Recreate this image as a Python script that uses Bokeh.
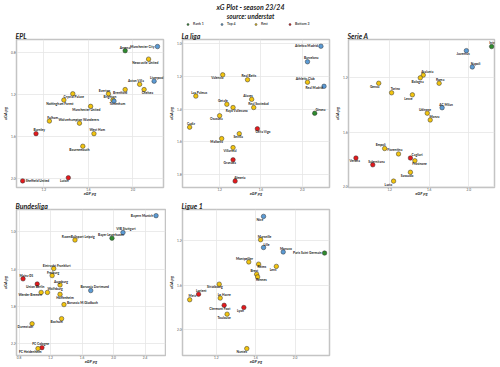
from bokeh.plotting import figure
from bokeh.layouts import column, row
from bokeh.models import ColumnDataSource, Range1d, FixedTicker, Title, Legend, LegendItem, PrintfTickFormatter
from bokeh.embed import file_html
from bokeh.resources import INLINE
from bokeh.core.properties import value, field

FONT = "Lato"

# ---------------- data ----------------
epl_teams = ["Arsenal", "Manchester City", "Newcastle United", "Liverpool", "Aston Villa", "Chelsea",
             "Brentford", "Everton", "Brighton", "Tottenham", "Crystal Palace", "Nottingham Forest",
             "Manchester United", "Fulham", "Wolverhampton Wanderers", "Burnley", "West Ham",
             "Bournemouth", "Sheffield United", "Luton"]
epl_xgf = [1.93, 2.22, 2.14, 2.19, 2.06, 2.10, 1.93, 1.78, 1.82, 1.83, 1.46, 1.38, 1.62, 1.25, 1.52,
           1.13, 1.65, 1.55, 1.01, 1.42]
epl_xga = [0.78, 0.74, 0.86, 1.07, 1.10, 1.15, 1.15, 1.19, 1.25, 1.26, 1.19, 1.25, 1.31, 1.45, 1.47,
           1.57, 1.57, 1.69, 2.02, 1.99]
epl_group = ["Rank 1", "Top 4", "Rest", "Top 4", "Rest", "Rest", "Rest", "Rest", "Rest", "Top 4",
             "Rest", "Rest", "Rest", "Rest", "Rest", "Bottom 3", "Rest", "Rest", "Bottom 3", "Bottom 3"]
epl_xticks = [1.2, 1.6, 2.0]
epl_yticks = [0.8, 1.2, 1.6, 2.0]

liga_teams = ["Atletico Madrid", "Barcelona", "Athletic Club", "Real Madrid", "Girona", "Valencia",
              "Real Betis", "Las Palmas", "Alaves", "Getafe", "Rayo Vallecano", "Real Sociedad",
              "Osasuna", "Cadiz", "Celta Vigo", "Sevilla", "Mallorca", "Villarreal", "Granada", "Almeria"]
liga_xgf = [2.18, 2.05, 2.05, 2.21, 2.12, 1.23, 1.47, 0.97, 1.51, 1.27, 1.33, 1.53, 1.20, 0.91, 1.565,
            1.39, 1.22, 1.33, 1.33, 1.35]
liga_xga = [1.015, 1.11, 1.235, 1.26, 1.425, 1.19, 1.22, 1.32, 1.34, 1.37, 1.39, 1.39, 1.44, 1.51, 1.52,
            1.55, 1.58, 1.635, 1.71, 1.84]
liga_group = ["Top 4", "Top 4", "Rest", "Top 4", "Rank 1", "Rest", "Rest", "Rest", "Rest", "Rest", "Rest",
              "Rest", "Rest", "Rest", "Bottom 3", "Rest", "Rest", "Rest", "Bottom 3", "Bottom 3"]
liga_xticks = [1.2, 1.6, 2.0]
liga_yticks = [1.0, 1.2, 1.4, 1.6, 1.8]

seria_teams = ["Inter", "Juventus", "Napoli", "Atalanta", "Bologna", "Roma", "Genoa", "Torino", "Lecce",
               "AC Milan", "Udinese", "Monza", "Empoli", "Fiorentina", "Cagliari", "Frosinone", "Verona",
               "Salernitana", "Sassuolo", "Lazio"]
seria_xgf = [2.23, 1.975, 2.035, 1.54, 1.51, 1.70, 1.09, 1.22, 1.43, 1.73, 1.58, 1.61, 1.15, 1.29, 1.41,
             1.455, 0.86, 1.03, 1.41, 1.24]
seria_xga = [0.97, 1.00, 1.12, 1.18, 1.20, 1.24, 1.24, 1.31, 1.325, 1.42, 1.46, 1.51, 1.72, 1.76, 1.79,
             1.81, 1.79, 1.84, 1.895, 1.96]
seria_group = ["Rank 1", "Top 4", "Top 4", "Rest", "Rest", "Rest", "Rest", "Rest", "Rest", "Top 4", "Rest",
               "Rest", "Rest", "Rest", "Bottom 3", "Rest", "Bottom 3", "Bottom 3", "Rest", "Rest"]
seria_xticks = [1.2, 1.6, 2.0]
seria_yticks = [1.2, 1.6, 2.0]

bund_teams = ["Bayern Munich", "VfB Stuttgart", "Bayer Leverkusen", "RasenBallsport Leipzig",
              "Eintracht Frankfurt", "Freiburg", "Mainz 05", "Union Berlin", "Augsburg", "Wolfsburg",
              "Werder Bremen", "Hoffenheim", "Borussia Dortmund", "Borussia M.Gladbach", "Bochum",
              "Darmstadt", "FC Cologne", "FC Heidenheim"]
bund_xgf = [2.54, 2.12, 1.98, 1.51, 1.24, 1.22, 0.85, 1.03, 1.32, 1.16, 1.08, 1.32, 1.71, 1.37, 1.34,
            0.965, 1.09, 1.04]
bund_xga = [0.83, 1.01, 1.07, 1.09, 1.395, 1.47, 1.505, 1.56, 1.57, 1.65, 1.65, 1.67, 1.63, 1.78, 1.93,
            1.985, 2.24, 2.25]
bund_group = ["Top 4", "Top 4", "Rank 1", "Rest", "Rest", "Rest", "Bottom 3", "Bottom 3", "Rest", "Rest",
              "Rest", "Rest", "Top 4", "Rest", "Rest", "Rest", "Bottom 3", "Rest"]
bund_xticks = [0.8, 1.2, 1.6, 2.0, 2.4]
bund_yticks = [1.0, 1.4, 1.8, 2.2]

lig1_teams = ["Nice", "Marseille", "Lille", "Monaco", "Paris Saint Germain", "Montpellier", "Reims", "Lens",
              "Brest", "Rennes", "Strasbourg", "Lorient", "Metz", "Le Havre", "Clermont Foot", "Lyon",
              "Toulouse", "Nantes"]
lig1_xgf = [1.68, 1.65, 1.68, 1.88, 2.30, 1.53, 1.63, 1.81, 1.61, 1.62, 1.23, 1.02, 0.93, 1.24, 1.28, 1.48,
            1.31, 1.51]
lig1_xga = [0.98, 1.19, 1.26, 1.30, 1.31, 1.39, 1.41, 1.43, 1.50, 1.525, 1.59, 1.68, 1.73, 1.715, 1.78,
            1.80, 1.86, 2.17]
lig1_group = ["Top 4", "Rest", "Top 4", "Top 4", "Rank 1", "Rest", "Rest", "Rest", "Rest", "Rest", "Rest",
              "Bottom 3", "Rest", "Rest", "Bottom 3", "Bottom 3", "Rest", "Rest"]
lig1_xticks = [1.2, 1.6, 2.0]
lig1_yticks = [1.2, 1.6, 2.0]

legend_groups = ["Rank 1", "Top 4", "Rest", "Bottom 3"]

# ---------------- styles / layout ----------------
COLORS = {"Rank 1": "#2e8b2e", "Top 4": "#5b9bd5", "Rest": "#f2c40f", "Bottom 3": "#e3191c"}

# label offsets in screen pixels (dx, dy, align)
OFF_EPL = [(0, -3, 'c'), (-3, 0, 'r'), (-3.3, 3.7, 'c'), (2.7, -3, 'c'), (-3.7, -3.3, 'c'), (3.3, 3.7, 'c'),
           (-5, 3.3, 'c'), (-4, -3, 'c'), (-3, -3, 'c'), (3.3, 3.3, 'c'), (1, 3, 'c'), (-4, 3.7, 'c'),
           (-4.3, 3.3, 'c'), (3.3, -3, 'c'), (-0.7, -3.3, 'c'), (3.3, -3.3, 'c'), (3.3, -3.3, 'c'),
           (-3.3, 3.7, 'c'), (3, 0, 'l'), (-4, 3.3, 'c')]
OFF_LIGA = [(-3, 0, 'r'), (3.7, -3.3, 'c'), (-2.3, -3.3, 'c'), (-9.7, 1.7, 'c'), (5.7, -3.3, 'c'),
            (-5.3, 3, 'c'), (1.3, -3.3, 'c'), (3.3, -3.3, 'c'), (-3.7, -3.7, 'c'), (-4, -3.7, 'c'),
            (3.7, 3.3, 'c'), (4.7, -3.3, 'c'), (-3.3, 3.7, 'c'), (1.3, -3, 'c'), (5.7, 3.3, 'c'),
            (-1, 3.7, 'c'), (-5, 3.3, 'c'), (-3, 3.7, 'c'), (-3.3, 3.3, 'c'), (4.7, -3, 'c')]
OFF_SERA = [(1, -3.3, 'c'), (-3.3, 3.7, 'c'), (3.3, -3.3, 'c'), (4, -3.3, 'c'), (-2.7, 3.7, 'c'),
            (1, -3.3, 'c'), (-4, 3.7, 'c'), (3.7, -3.3, 'c'), (-4, 3.7, 'c'), (4, -3, 'c'),
            (-2.3, -3, 'c'), (4.3, -3.3, 'c'), (-4, -3.3, 'c'), (-3.7, -4.3, 'c'), (6.7, -3, 'c'),
            (4.7, 3.3, 'c'), (-1.3, 3.3, 'c'), (3.7, -3.3, 'c'), (-3.3, 3.7, 'c'), (-5.3, 3.7, 'c')]
OFF_BUND = [(-3, 0, 'r'), (3, -3.3, 'c'), (-1, -3, 'c'), (3.3, -2.7, 'c'), (3, -3, 'c'), (1, -3, 'c'),
            (3.3, -3.3, 'c'), (-2, 3, 'c'), (1, -3, 'c'), (7.7, -3, 'c'), (-11, 3, 'c'), (5, 3.3, 'c'),
            (4, -3.3, 'c'), (3, -1.7, 'l'), (-5, 3.3, 'c'), (-6.7, 3.7, 'c'), (-1.3, -3.3, 'c'),
            (-7.7, 3.3, 'c')]
OFF_LIG1 = [(-3.7, 3.3, 'c'), (4, -3, 'c'), (3, -3, 'c'), (2.7, -3, 'c'), (-3, 0, 'r'), (-4.3, -3.3, 'c'),
            (3.3, 3, 'c'), (-3.3, 3.7, 'c'), (-2.3, -3, 'c'), (3.7, 3, 'c'), (-4.3, 3.3, 'c'),
            (2.7, -3.3, 'c'), (2.7, -3.3, 'c'), (4, -3.3, 'c'), (-4.3, 3.7, 'c'), (-3.3, 3.3, 'c'),
            (-3, 4, 'c'), (-5, 3.3, 'c')]

ALIGN = {'c': 'center', 'l': 'left', 'r': 'right'}


def make_panel(name, teams, xgf, xga, groups, xticks, yticks, xlim, ylim, offs, width, height, borders):
    left, right, top, bottom = borders
    src = ColumnDataSource(dict(
        x=xgf, y=xga, team=teams, color=[COLORS[g] for g in groups],
        dx=[o[0] for o in offs], dy=[o[1] for o in offs], align=[ALIGN[o[2]] for o in offs]))
    p = figure(width=width, height=height, output_backend="svg", toolbar_location=None,
               x_range=Range1d(*xlim), y_range=Range1d(ylim[1], ylim[0]),
               min_border_left=left, min_border_right=right, min_border_top=top,
               min_border_bottom=bottom)
    p.title.text = name
    p.title.text_font = FONT
    p.title.text_font_style = "bold italic"
    p.title.text_font_size = "7px"
    p.title.text_color = "#222222"
    p.title.standoff = 0
    p.title.offset = -1
    p.outline_line_color = "#c4c4c4"
    p.outline_line_width = 1.5
    p.xaxis.ticker = FixedTicker(ticks=xticks)
    p.yaxis.ticker = FixedTicker(ticks=yticks)
    p.axis.formatter = PrintfTickFormatter(format="%.1f")
    p.grid.grid_line_color = "#e6e6e6"
    p.grid.grid_line_width = 0.8
    p.axis.axis_line_color = None
    p.axis.major_tick_line_color = "#bbbbbb"
    p.axis.major_tick_out = 1
    p.axis.major_tick_in = 0
    p.axis.minor_tick_line_color = None
    p.axis.major_label_text_font = FONT
    p.axis.major_label_text_font_size = "3.2px"
    p.axis.major_label_text_color = "#555555"
    p.axis.major_label_standoff = 0
    p.axis.axis_label_text_font = FONT
    p.axis.axis_label_text_font_size = "4.2px"
    p.axis.axis_label_text_font_style = "bold italic"
    p.axis.axis_label_text_color = "#222222"
    p.yaxis.axis_label_standoff = 0
    p.xaxis.major_tick_out = 0
    p.xaxis.major_label_standoff = 0
    p.xaxis.axis_label_standoff = -3
    p.xaxis.axis_label = "xGF pg"
    p.yaxis.axis_label = "xGA pg"
    p.scatter('x', 'y', source=src, size=4.5, fill_color='color', line_color='#333333', line_width=0.5)
    p.text('x', 'y', text='team', source=src, x_offset='dx', y_offset='dy', text_align=field('align'),
           text_baseline='middle', text_font=value(FONT), text_font_size='3.3px',
           text_font_style='bold', text_color='#222222')
    return p


p_epl = make_panel("EPL", epl_teams, epl_xgf, epl_xga, epl_group, epl_xticks, epl_yticks,
                   (0.955, 2.274), (0.673, 2.083), OFF_EPL, 166, 171, (14, 3, 11, 12))
p_liga = make_panel("La liga", liga_teams, liga_xgf, liga_xga, liga_group, liga_xticks, liga_yticks,
                    (0.841, 2.263), (0.974, 1.879), OFF_LIGA, 166, 171, (14, 3, 11, 12))
p_sera = make_panel("Serie A", seria_teams, seria_xgf, seria_xga, seria_group, seria_xticks, seria_yticks,
                    (0.785, 2.259), (0.918, 2.007), OFF_SERA, 168, 171, (15, 6, 11, 12))
p_bund = make_panel("Bundesliga", bund_teams, bund_xgf, bund_xga, bund_group, bund_xticks, bund_yticks,
                    (0.767, 2.66), (0.764, 2.324), OFF_BUND, 166, 168, (14, 1, 9, 12))
p_lig1 = make_panel("Ligue 1", lig1_teams, lig1_xgf, lig1_xga, lig1_group, lig1_xticks, lig1_yticks,
                    (0.857, 2.35), (0.918, 2.232), OFF_LIG1, 166, 168, (14, 3, 9, 12))

# ---------------- header ----------------
header = figure(width=500, height=28, output_backend="svg", toolbar_location=None,
                x_axis_type=None, y_axis_type=None, x_range=Range1d(0, 1), y_range=Range1d(0, 1),
                min_border=0)
header.outline_line_color = None
header.add_layout(Title(text="source: understat", align="center", text_font=FONT,
                        text_font_style="bold italic", text_font_size="6.5px", standoff=0,
                        text_color="#222222"), "above")
header.add_layout(Title(text="xG Plot - season 23/24", align="center", text_font=FONT,
                        text_font_style="bold italic", text_font_size="7px", standoff=0,
                        text_color="#222222"), "above")
items = []
for g in legend_groups:
    r = header.scatter(x=[float("nan")], y=[float("nan")], size=4.5, fill_color=COLORS[g],
                       line_color="#333333", line_width=0.5)
    items.append(LegendItem(label=g, renderers=[r]))
leg = Legend(items=items, orientation="horizontal", location="center",
             label_text_font=FONT, label_text_font_size="3.5px", label_text_font_style="bold",
             glyph_width=5, glyph_height=5, label_height=5, label_standoff=3, spacing=6,
             padding=0, margin=0, border_line_alpha=0, background_fill_alpha=0)
header.add_layout(leg, "center")

layout = column(header, row(p_epl, p_liga, p_sera), row(p_bund, p_lig1))
open("out.html", "w").write(file_html(layout, INLINE))
